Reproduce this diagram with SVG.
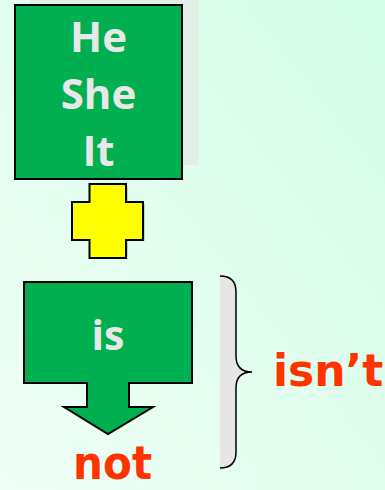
<svg xmlns="http://www.w3.org/2000/svg" width="385" height="490" viewBox="0 0 385 490">
<defs>
<linearGradient id="bg" x1="1" y1="0" x2="0" y2="1">
<stop offset="0" stop-color="#d2fde6"/>
<stop offset="1" stop-color="#f0fff6"/>
</linearGradient>
</defs>
<style>
.green{fill:#00b050;stroke:#000;stroke-width:2}
.wt{font-family:"Open Sans","DejaVu Sans",sans-serif;font-weight:bold;fill:#e8e8e8;text-anchor:middle}
.rt{font-family:"DejaVu Sans",sans-serif;font-weight:bold;fill:#ff3300}
</style>
<rect width="385" height="490" fill="url(#bg)"/>
<g id="pronouns">
<rect x="30" y="0" width="169" height="165" fill="#e2efe7"/>
<rect class="green" x="15" y="5" width="167" height="174"/>
<text class="wt" x="98.5" y="52" font-size="42">He</text>
<text class="wt" x="98.5" y="109" font-size="42">She</text>
<text class="wt" x="98.5" y="166" font-size="42">It</text>
</g>
<g id="plus">
<path d="M91,186 H128 V204 H145 V241 H128 V259 H91 V241 H74 V204 H91 Z" fill="#c8d2c8"/>
<path d="M89.5,184 H126 V202 H143 V240 H126 V258 H89.5 V240 H72 V202 H89.5 Z" fill="#ffff00" stroke="#000" stroke-width="2"/>
</g>
<g id="is">
<path class="green" d="M24,282 H192 V383 H129 V407 H153 L108,434 L64,407 H87 V383 H24 Z"/>
<text class="wt" x="108" y="350" font-size="41">is</text>
</g>
<g id="not">
<text class="rt" x="73" y="479" font-size="46" textLength="79" lengthAdjust="spacingAndGlyphs">not</text>
</g>
<g id="brace">
<path d="M220,276 Q236,276 236,292 V356 Q236,372 252,372 Q236,372 236,388 V452 Q236,468 220,468 Z" fill="#e6e6e6"/>
<path d="M220,276 Q236,276 236,292 V356 Q236,372 252,372 Q236,372 236,388 V452 Q236,468 220,468" fill="none" stroke="#000" stroke-width="1.5"/>
</g>
<g id="isnt">
<text class="rt" x="273" y="386" font-size="44">isn’t</text>
</g>
</svg>
